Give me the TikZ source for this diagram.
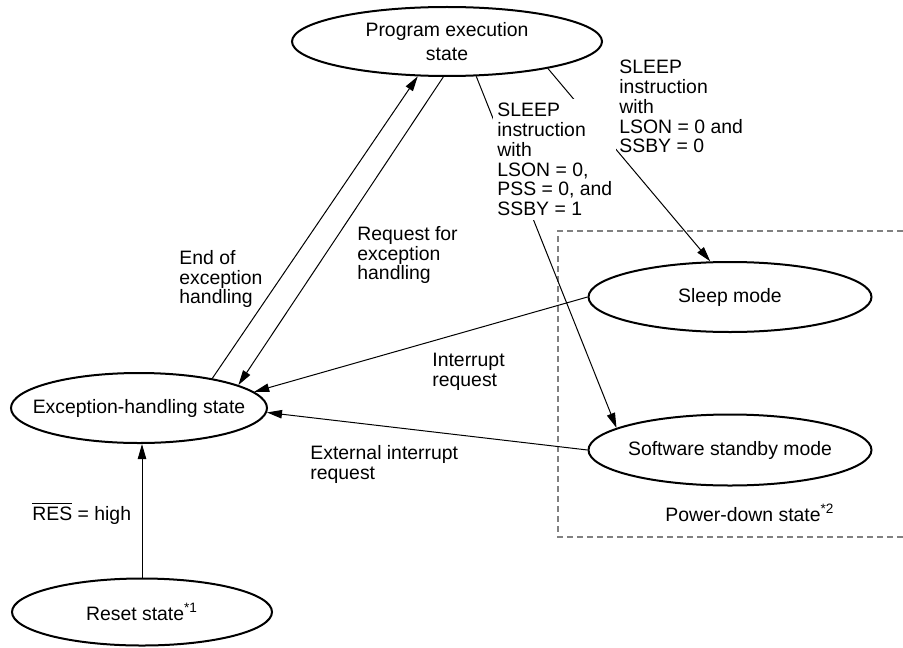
\documentclass[tikz,border=0pt]{standalone}
\usepackage{fontspec}
\setmainfont{Liberation Sans}
\usetikzlibrary{shapes.geometric,arrows.meta}

\tikzset{
  state/.style={draw,ellipse,line width=1pt,inner xsep=-10pt,inner ysep=0pt},
  lbl/.style={inner sep=0pt,align=left,anchor=north west},
  conn/.style={line width=0.5pt,-{Triangle[length=7.5pt,width=4.2pt]}},
  pwrbox/.style={gray,line width=0.6pt,dash pattern=on 3pt off 2pt}
}

\begin{document}
\begin{tikzpicture}[x=0.5pt,y=-0.5pt,font=\fontsize{9.7}{9.85}\selectfont]
\useasboundingbox (0,0) rectangle (903,647);
% states
\node[state,minimum width=155pt,minimum height=34.5pt,align=center,
  font=\fontsize{9.7}{12}\selectfont] (prog) at (447,41.5) {Program execution\\state};
\node[state,minimum width=128pt,minimum height=35pt] (excp) at (139,408) {Exception-handling state};
\node[state,minimum width=130pt,minimum height=33.5pt] (reset) at (142,612) {Reset state\textsuperscript{*1}};
\node[state,minimum width=141.5pt,minimum height=35pt] (sleep) at (730,297) {Sleep mode};
\node[state,minimum width=141.5pt,minimum height=35.5pt] (stby) at (730,450) {Software standby mode};

% power-down area
\draw[pwrbox] (903,231) -- (558,231) -- (558,537) -- (903,537);
\node[inner sep=0pt,anchor=base west] (pwrlbl) at (665,521) {Power-down state\textsuperscript{*2}};

% transitions
\draw[conn] (excp.22) -- (prog.230);
\draw[conn] (prog.264) -- (excp.13);
\draw[conn] (prog.345) -- (sleep.119);
\draw[conn] (prog.310) -- (stby.169);
\draw[conn] (sleep.180) -- (excp.8);
\draw[conn] (stby.180) -- (excp.358);
\draw[conn] (reset.north) -- (reset.north |- excp.south);

% labels
\node[lbl] (endlbl) at (179,250) {End of\\exception\\handling};
\node[lbl] (reqlbl) at (357,226) {Request for\\exception\\handling};
\node[lbl] (slpalbl) at (619,60) {SLEEP\\instruction\\with\\LSON = 0 and\\SSBY = 0};
\node[lbl,fill=white,inner sep=2pt] (slpblbl) at (493,99) {SLEEP\\instruction\\with\\LSON = 0,\\PSS = 0, and\\SSBY = 1};
\node[lbl] (intlbl) at (432,353) {Interrupt\\request};
\node[lbl] (extlbl) at (310,445) {External interrupt\\request};
\node[inner sep=0pt,anchor=base west] (reslbl) at (32,520) {$\overline{\mbox{RES}}$ = high};
\end{tikzpicture}
\end{document}
